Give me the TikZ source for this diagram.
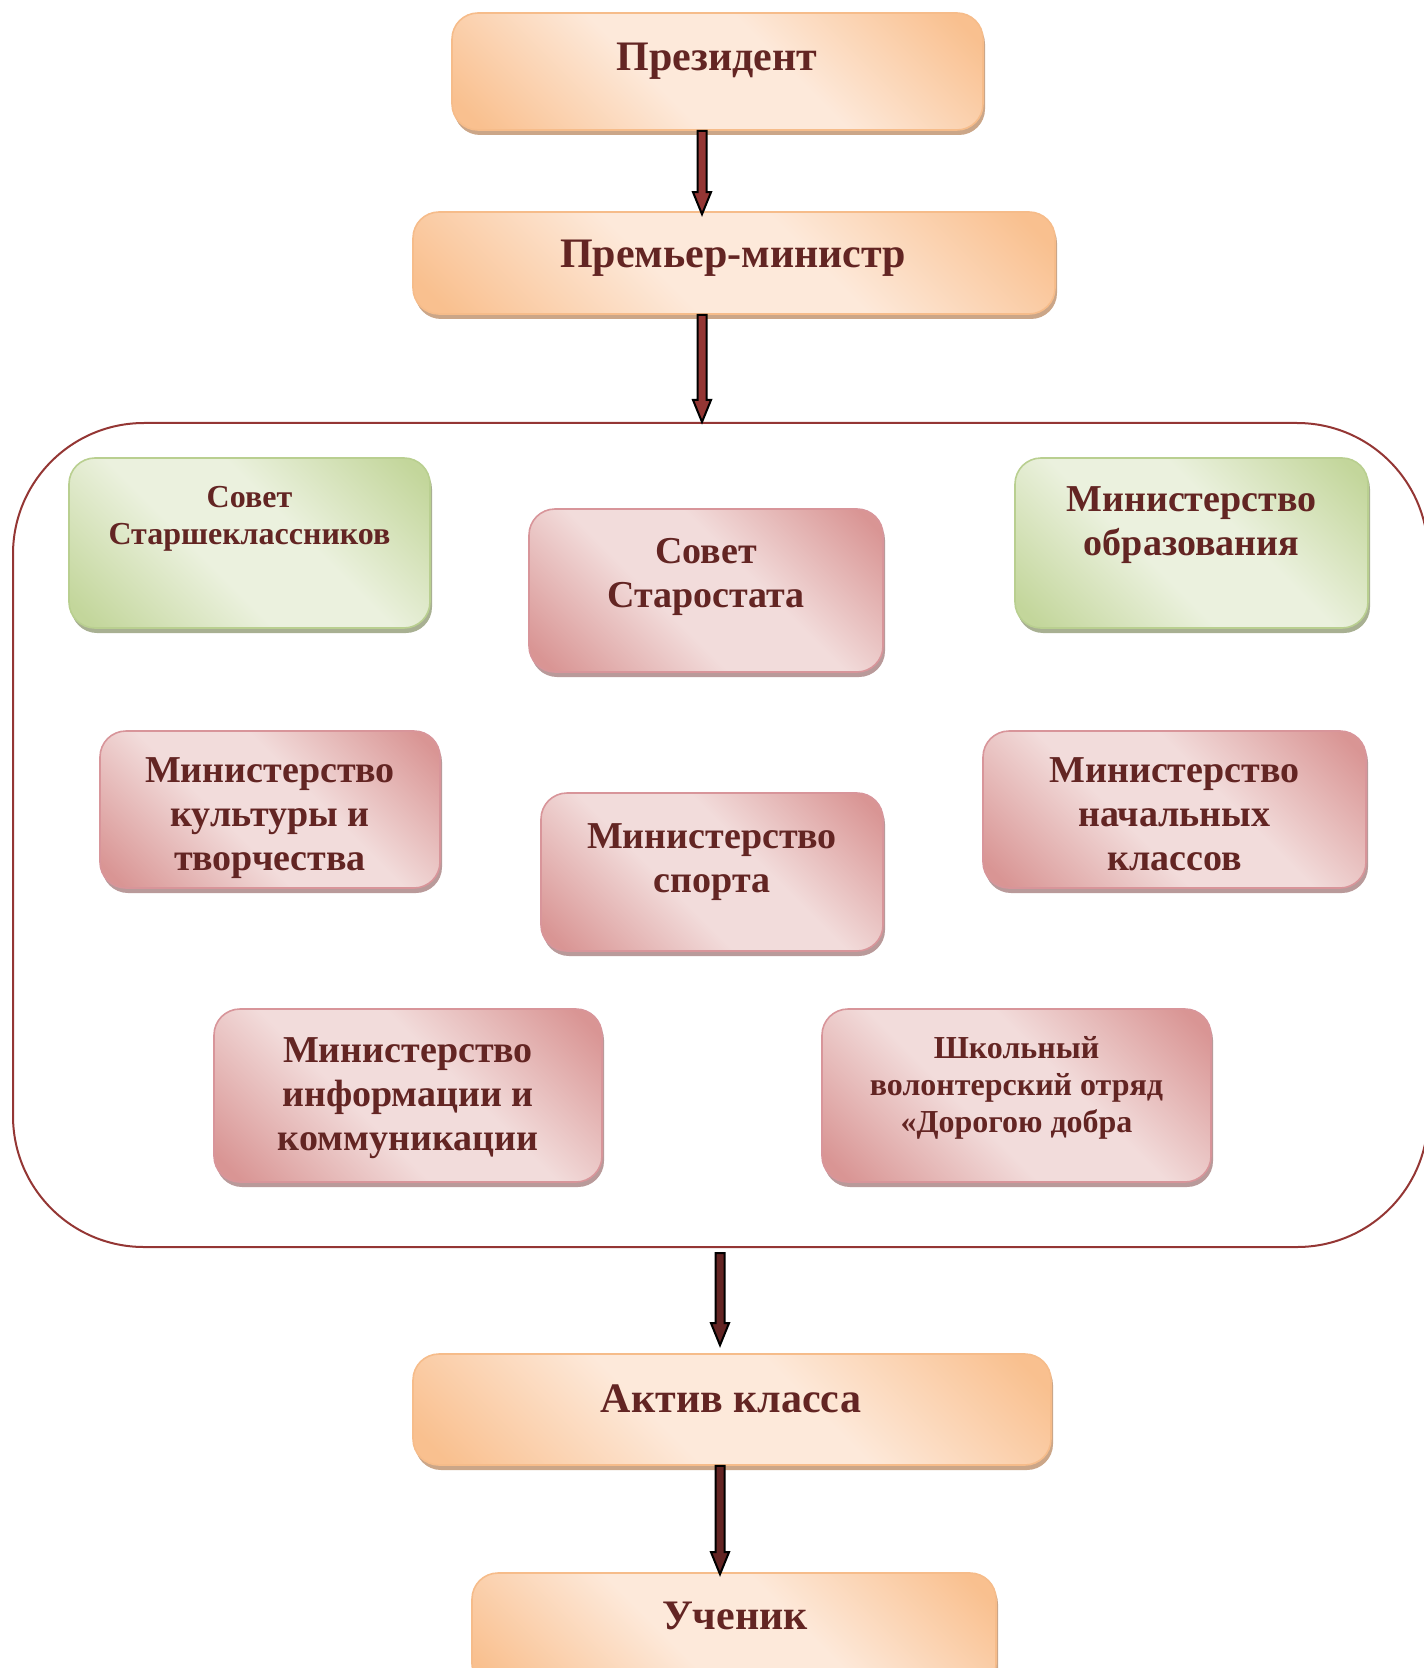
\documentclass[tikz,border=0pt]{standalone}
\usepackage{fontspec}
\setmainfont{Liberation Serif}
\usetikzlibrary{calc,shadows}
\definecolor{txtc}{HTML}{632523}
\definecolor{ordk}{HTML}{F9C08F}
\definecolor{orlt}{HTML}{FDE9DA}
\definecolor{orbd}{HTML}{F6BC8A}
\definecolor{orsd}{HTML}{CBA688}
\definecolor{pkdk}{HTML}{D99594}
\definecolor{pklt}{HTML}{F2DCDB}
\definecolor{pkbd}{HTML}{D8959A}
\definecolor{pksd}{HTML}{B99A9A}
\definecolor{grdk}{HTML}{C3D69B}
\definecolor{grlt}{HTML}{EBF1DE}
\definecolor{grbd}{HTML}{B9CF90}
\definecolor{grsd}{HTML}{A8B092}
\definecolor{contc}{HTML}{943634}
\definecolor{arup}{HTML}{943634}
\definecolor{arlo}{HTML}{632423}
\pgfdeclarehorizontalshading{orsh}{100bp}{color(0bp)=(ordk); color(18bp)=(ordk); color(42bp)=(orlt); color(58bp)=(orlt); color(82bp)=(ordk); color(100bp)=(ordk)}
\pgfdeclarehorizontalshading{pksh}{100bp}{color(0bp)=(pkdk); color(18bp)=(pkdk); color(42bp)=(pklt); color(58bp)=(pklt); color(82bp)=(pkdk); color(100bp)=(pkdk)}
\pgfdeclarehorizontalshading{grsh}{100bp}{color(0bp)=(grdk); color(18bp)=(grdk); color(42bp)=(grlt); color(58bp)=(grlt); color(82bp)=(grdk); color(100bp)=(grdk)}
\tikzset{
  bx/.style={rectangle, rounded corners=13pt, line width=0.8pt, inner sep=0pt, shading angle=45},
  orbox/.style={bx, draw=orbd, shading=orsh, drop shadow={shadow xshift=1pt, shadow yshift=-2.5pt, fill=orsd, opacity=1}},
  pkbox/.style={bx, draw=pkbd, shading=pksh, drop shadow={shadow xshift=1pt, shadow yshift=-2.5pt, fill=pksd, opacity=1}},
  grbox/.style={bx, draw=grbd, shading=grsh, drop shadow={shadow xshift=1pt, shadow yshift=-2.5pt, fill=grsd, opacity=1}},
  bigt/.style={anchor=base, text=txtc, font=\fontsize{21}{24}\selectfont\bfseries, inner sep=0pt},
  midt/.style={anchor=base, text=txtc, align=center, font=\fontsize{19}{22}\selectfont\bfseries, inner sep=0pt},
  smlt/.style={anchor=base, text=txtc, align=center, font=\fontsize{16}{18.5}\selectfont\bfseries, inner sep=0pt},
  fat/.style={to path={let \p1=(\tikztostart), \p2=(\tikztotarget) in
     (\x1-2.25pt,\y1) -- (\x1-2.25pt,\y2+11pt) -- (\x1-4.5pt,\y2+11pt) -- (\x1,\y2)
     -- (\x1+4.5pt,\y2+11pt) -- (\x1+2.25pt,\y2+11pt) -- (\x1+2.25pt,\y1) -- cycle}},
  fatarrow/.style={fat, draw=black, line width=1pt, line join=miter}
}
\begin{document}
\begin{tikzpicture}[x=0.5pt, y=-0.5pt]
\useasboundingbox (0,0) rectangle (1423,1668);
% container
\node[draw=contc, line width=1pt, rounded corners=65.5pt, minimum width=707.5pt, minimum height=412pt, inner sep=0pt] (cont) at (720.5,835) {};
% boxes
\node[orbox, minimum width=265.5pt, minimum height=58.5pt] (pres) at (717.5,71.5) {};
\node[orbox, minimum width=321pt, minimum height=51pt] (prem) at (734,263) {};
\node[grbox, minimum width=180.5pt, minimum height=85pt] (sovst) at (249.5,543) {};
\node[pkbox, minimum width=177pt, minimum height=81.5pt] (starost) at (706,590.5) {};
\node[grbox, minimum width=176.5pt, minimum height=85pt] (obraz) at (1191.5,543) {};
\node[pkbox, minimum width=170pt, minimum height=78.5pt] (kult) at (270,809.5) {};
\node[pkbox, minimum width=171pt, minimum height=79pt] (sport) at (712,872) {};
\node[pkbox, minimum width=191.5pt, minimum height=78.5pt] (nach) at (1174.5,809.5) {};
\node[pkbox, minimum width=194pt, minimum height=86.5pt] (inf) at (408,1095.5) {};
\node[pkbox, minimum width=194.5pt, minimum height=86.5pt] (shkol) at (1016.5,1095.5) {};
\node[orbox, minimum width=319pt, minimum height=55.5pt] (aktiv) at (732,1409.5) {};
\node[orbox, minimum width=262pt, minimum height=58.5pt] (uchen) at (734,1631.5) {};
% texts (anchor = baseline of the last line)
\node[bigt] (prest) at (717,71) {Президент};
\node[bigt] (premt) at (733,268) {Премьер-министр};
\node[smlt] (sovstt) at (249.5,544) {Совет\\Старшеклассников};
\node[midt] (starostt) at (706,607) {Совет\\Старостата};
\node[midt] (obrazt) at (1191.5,555) {Министерство\\образования};
\node[midt] (kultt) at (270,870) {Министерство\\культуры и\\творчества};
\node[midt] (sportt) at (712,892) {Министерство\\спорта};
\node[midt] (nacht) at (1174.5,870) {Министерство\\начальных\\классов};
\node[midt] (inft) at (408,1150) {Министерство\\информации и\\коммуникации};
\node[smlt] (shkolt) at (1016.5,1132) {Школьный\\волонтерский отряд\\«Дорогою добра};
\node[bigt] (aktivt) at (731,1412) {Актив класса};
\node[bigt] (uchent) at (735,1629) {Ученик};
% arrows
\coordinate (cu) at (702,0);
\coordinate (cl) at (720,0);
\draw[fatarrow, fill=arup] (pres.south -| cu) to ($(prem.north -| cu)+(0,3)$);
\draw[fatarrow, fill=arup] (prem.south -| cu) to (cont.north -| cu);
\draw[fatarrow, fill=arlo] ($(cont.south -| cl)+(0,5)$) to ($(aktiv.north -| cl)+(0,-8)$);
\draw[fatarrow, fill=arlo] (aktiv.south -| cl) to ($(uchen.north -| cl)+(0,2)$);
\end{tikzpicture}
\end{document}
